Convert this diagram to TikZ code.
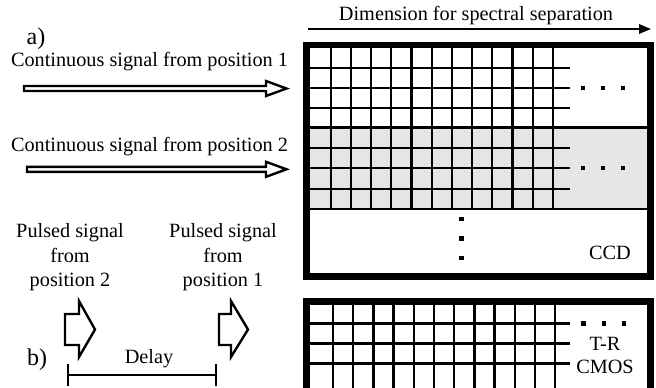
\documentclass[tikz,border=0pt]{standalone}
\usepackage{fontspec}
\setmainfont{Liberation Serif}
\usetikzlibrary{arrows.meta,positioning,calc}

\tikzset{
  lbl/.style={font=\fontsize{15.2}{18.4}\selectfont, inner sep=0pt, align=center},
  tag/.style={font=\fontsize{18}{20}\selectfont, inner sep=0pt},
  pane/.style={line width=5pt},
  cell/.style={line width=1.7pt},
  hollow/.style={line width=1.8pt, fill=white, line join=miter},
  dot/.style={fill=black, minimum size=3.5pt, inner sep=0pt},
}

\begin{document}
\begin{tikzpicture}[x=0.75pt, y=-0.75pt]
    \useasboundingbox (0,0) rectangle (656,387);
    \clip (0,0) rectangle (656,387);

    % spectral dimension
    \coordinate (dimL) at (308,29);
    \coordinate (dimR) at (651,29);
    \draw[line width=1.6pt, -{Triangle[length=9pt,width=7pt]}] (dimL) -- (dimR);
    \node[lbl] (dimtxt) at (476,16) {Dimension for spectral separation};

    % a) continuous signals
    \node[tag] (lblA) at (36,39) {a)};
    \node[lbl] (sig1) at (149.5,62) {Continuous signal from position 1};
    \draw[hollow] (24,86) -- (266,86) -- (266,81) -- (286.5,88.5) -- (266,96) -- (266,91) -- (24,91) -- cycle;
    \node[lbl] (sig2) at (149.5,147) {Continuous signal from position 2};
    \draw[hollow] (27,166.8) -- (266,166.8) -- (266,161.8) -- (286.5,169.3) -- (266,176.8) -- (266,171.8) -- (27,171.8) -- cycle;

    % CCD
    \fill[gray!20] (306.5,127.5) rectangle (650.5,209);
    \draw[cell] \foreach \i in {0,...,11} {({330.7+20.2*\i},46) -- ({330.7+20.2*\i},209)};
    \draw[cell] \foreach \y in {68,88,108,148,168,189} {(309,\y) -- (570,\y)};
    \draw[cell] (309,127.5) -- (649,127.5);
    \draw[cell] (309,209) -- (649,209);
    \draw[pane] (306.7,45) rectangle (650.6,276.6);
    \foreach \y/\r in {88/a,168/b}
        \foreach \x/\c in {583/1,603/2,623/3}
            \node[dot] (dot\r\c) at (\x,\y) {};
    \foreach \y/\c in {219/1,238.5/2,258/3}
        \node[dot] (vdot\c) at (461.7,\y) {};
    \node[lbl] (ccd) at (610,253) {CCD};

    % b) pulsed signals
    \node[lbl] (pulse2) at (70,257.5) {Pulsed signal\\from\\position 2};
    \node[lbl] (pulse1) at (223,257.5) {Pulsed signal\\from\\position 1};
    \draw[hollow] (65,314) -- (79,314) -- (79,301) -- (95,329.5) -- (79,357) -- (79,345) -- (65,345) -- cycle;
    \draw[hollow] (219,314) -- (231,314) -- (231,301) -- (248,329.5) -- (231,357) -- (231,345) -- (219,345) -- cycle;
    \node[tag] (lblB) at (37,360) {b)};
    \node[lbl] (delay) at (149,359) {Delay};
    \coordinate (dl) at (67,375);
    \coordinate (dr) at (217,375);
    \draw[line width=1.7pt, {Bar[width=17pt]}-{Bar[width=17pt]}] (dl) -- (dr);

    % T-R CMOS
    \draw[cell] \foreach \i in {0,...,11} {({333+20.2*\i},302) -- ({333+20.2*\i},395)};
    \draw[cell] \foreach \y in {323.5,343.5,363.5} {(309,\y) -- (570,\y)};
    \draw[pane] (306.7,301.7) rectangle (650.6,400);
    \foreach \x/\c in {583.5/1,604/2,624/3}
        \node[dot] (cdot\c) at (\x,323.5) {};
    \node[lbl] (tr) at (605,344) {T-R};
    \node[lbl] (cmos) at (605,367) {CMOS};
\end{tikzpicture}
\end{document}
